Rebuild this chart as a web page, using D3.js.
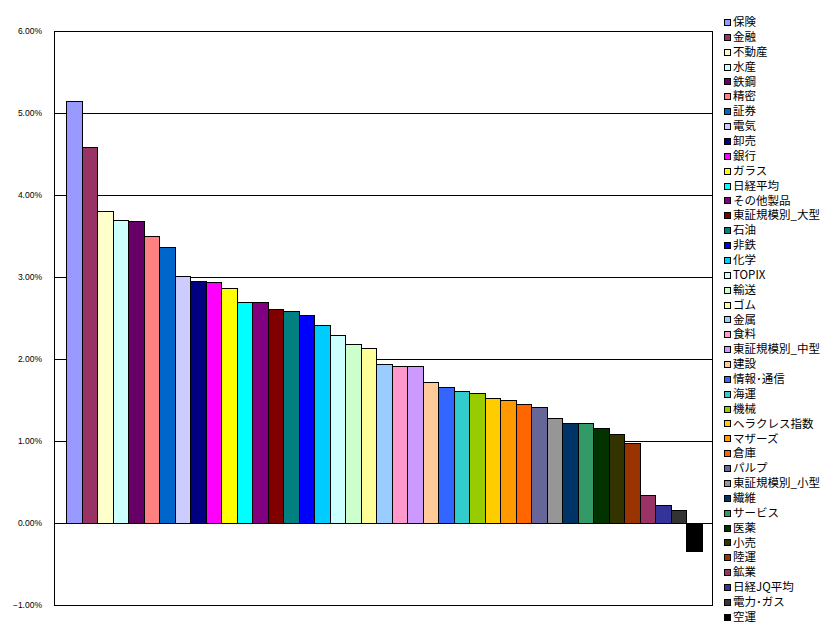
<!DOCTYPE html>
<html><head><meta charset="utf-8">
<script src="https://cdn.jsdelivr.net/npm/d3@7"></script>
<style>html,body{margin:0;padding:0;background:#fff;}svg{display:block;}</style>
</head><body>
<svg id="c" width="839" height="628"></svg>
<script>
const categories = ["保険","金融","不動産","水産","鉄鋼","精密","証券","電気","卸売","銀行","ガラス","日経平均","その他製品","東証規模別_大型","石油","非鉄","化学","TOPIX","輸送","ゴム","金属","食料","東証規模別_中型","建設","情報･通信","海運","機械","ヘラクレス指数","マザーズ","倉庫","パルプ","東証規模別_小型","繊維","サービス","医薬","小売","陸運","鉱業","日経JQ平均","電力･ガス","空運"];
const values = [5.15,4.59,3.81,3.69,3.68,3.50,3.36,3.01,2.95,2.94,2.86,2.69,2.69,2.61,2.58,2.54,2.42,2.29,2.18,2.13,1.94,1.92,1.91,1.72,1.66,1.61,1.59,1.52,1.50,1.45,1.42,1.28,1.22,1.22,1.16,1.09,0.98,0.34,0.22,0.16,-0.34];
const colors = ["#9999FF","#993366","#FFFFCC","#CCFFFF","#660066","#FF8080","#0066CC","#CCCCFF","#000080","#FF00FF","#FFFF00","#00FFFF","#800080","#800000","#008080","#0000FF","#00CCFF","#CCFFFF","#CCFFCC","#FFFF99","#99CCFF","#FF99CC","#CC99FF","#FFCC99","#3366FF","#33CCCC","#99CC00","#FFCC00","#FF9900","#FF6600","#666699","#969696","#003366","#339966","#003300","#333300","#993300","#993366","#333399","#333333","#000000"];
const yTicks = [-1,0,1,2,3,4,5,6];

const svg = d3.select("#c");
const L = 54, R = 712, T = 31, B = 605;
const y = d3.scaleLinear().domain([-1, 6]).range([B, T]);
const x = d3.scaleBand().domain(categories).range([L, R]).paddingInner(0).paddingOuter(0.72).align(0.55);

// gridlines
svg.append("g").selectAll("line").data(yTicks).join("line")
  .attr("x1", L).attr("x2", R)
  .attr("y1", d => Math.round(y(d)) + 0.5).attr("y2", d => Math.round(y(d)) + 0.5)
  .attr("stroke", "#000").attr("stroke-width", 1);

// bars
svg.append("g").selectAll("rect").data(values).join("rect")
  .attr("x", (d, i) => Math.round(x(categories[i])) + 0.5)
  .attr("width", (d, i) => Math.round(x(categories[i]) + x.bandwidth()) - Math.round(x(categories[i])))
  .attr("y", d => Math.round(y(Math.max(0, d))) + 0.5)
  .attr("height", d => Math.abs(Math.round(y(d)) - Math.round(y(0))))
  .attr("fill", (d, i) => colors[i])
  .attr("stroke", "#000").attr("stroke-width", 1);

// plot border
svg.append("rect").attr("x", L + 0.5).attr("y", T + 0.5).attr("width", R - L).attr("height", B - T)
  .attr("fill", "none").attr("stroke", "#000").attr("stroke-width", 1);

// y axis labels
const axis = d3.axisLeft(y).tickValues(yTicks).tickFormat(d => d3.format(".2f")(d) + "%").tickSize(0).tickPadding(12);
const ag = svg.append("g").attr("transform", `translate(${L},0)`).call(axis);
ag.select(".domain").remove();
ag.selectAll("text").attr("font-family", "Liberation Sans, Arial, sans-serif").attr("font-size", "8.5px").attr("fill", "#000").attr("dy", "0.35em");

// legend
const lg = svg.append("g");
const ly0 = 22, lstep = 14.87;
categories.forEach((c, i) => {
  const cy = ly0 + i * lstep;
  lg.append("rect").attr("x", 724.5).attr("y", Math.round(cy - 3) + 0.5).attr("width", 6).attr("height", 6)
    .attr("fill", colors[i]).attr("stroke", "#000").attr("stroke-width", 1);
  lg.append("text").attr("x", 733).attr("y", cy).attr("dy", "0.36em")
    .attr("font-family", "Noto Sans CJK JP, sans-serif").attr("font-size", "11.5px").attr("fill", "#000").text(c);
});
</script>
</body></html>
